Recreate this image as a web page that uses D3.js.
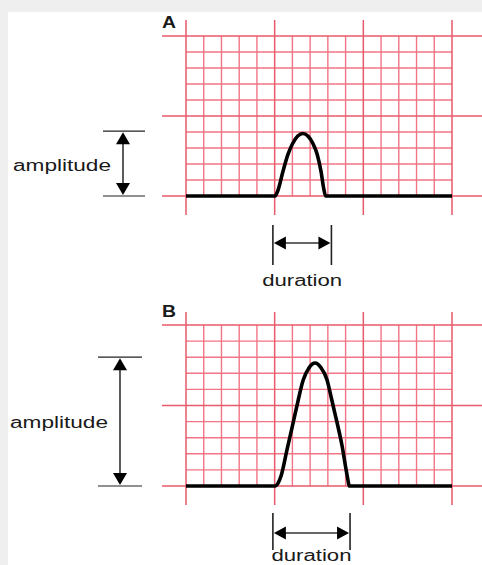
<!DOCTYPE html>
<html>
<head>
<meta charset="utf-8">
<script src="https://cdn.jsdelivr.net/npm/d3@7"></script>
<style>
html,body{margin:0;padding:0;background:#efefef;}
svg{display:block;}
text{font-family:"Liberation Sans",Arial,Helvetica,sans-serif;fill:#1a1a1a;}
</style>
</head>
<body>
<script>
// ---- data ----
const panels = ["A", "B"];
// pulse traces: time in small grid units (mm), amplitude in small grid units (mm)
const pulseA_t = [0, 4.8, 5.02, 5.2, 5.47, 5.75, 6.0, 6.3, 6.6, 6.9, 7.15, 7.4, 7.62, 7.76, 7.88, 8.2, 15];
const pulseA_v = [0, 0, 0, 0.4, 1.55, 2.6, 3.25, 3.75, 3.91, 3.72, 3.3, 2.6, 1.5, 0.5, 0, 0, 0];
const pulseB_t = [0, 4.8, 5.02, 5.2, 5.36, 5.70, 6.03, 6.30, 6.60, 6.94, 7.28, 7.61, 7.95, 8.20, 8.40, 8.80, 9.08, 9.22, 9.5, 15];
const pulseB_v = [0, 0, 0, 0.2, 0.62, 2.27, 3.87, 5.2, 6.55, 7.35, 7.64, 7.35, 6.6, 5.45, 4.5, 2.5, 0.7, 0, 0, 0];
const amplitudes = [4.05, 8.0];          // measured amplitude (mm)
const durationStart = [4.9, 4.9];        // duration bracket start (mm)
const durationEnd = [8.2, 9.25];         // duration bracket end (mm)
const xMinorTicks = d3.range(0, 16);     // 15 small squares across
const yMinorTicks = d3.range(0, 11);     // 10 small squares high
const majorEvery = 5;
const labelAmplitude = "amplitude";
const labelDuration = "duration";

// ---- layout ----
const W = 482, H = 565;
const svg = d3.select("body").append("svg").attr("width", W).attr("height", H);
svg.append("rect").attr("x", 8).attr("y", 12).attr("width", W - 8).attr("height", H - 12).attr("fill", "#fff");

const layouts = [
  {top: 36, bottom: 196, ampX: 123, ampL: 103, ampR: 145, ampTextX: 13, ampTextY: 171,
   durTop: 225, durBot: 265, durY: 243, durTextY: 286, titleY: 28, vExtTop: 20, vExtBot: 215},
  {top: 325, bottom: 486, ampX: 120, ampL: 98, ampR: 142, ampTextX: 10, ampTextY: 428,
   durTop: 513, durBot: 550, durY: 533, durTextY: 561, titleY: 317, vExtTop: 312, vExtBot: 505}
];
const traces = [
  pulseA_t.map((t, i) => ({t, v: pulseA_v[i]})),
  pulseB_t.map((t, i) => ({t, v: pulseB_v[i]}))
];

const x = d3.scaleLinear().domain([0, 15]).range([186, 452]);
const minorColor = "#f27585", majorColor = "#e85a6a";

panels.forEach((name, p) => {
  const L = layouts[p];
  const y = d3.scaleLinear().domain([0, 10]).range([L.bottom, L.top]);
  const g = svg.append("g");

  // minor grid
  g.selectAll(".vmin").data(xMinorTicks.filter(d => d % majorEvery)).join("line")
    .attr("x1", d => x(d)).attr("x2", d => x(d)).attr("y1", y(10)).attr("y2", y(0))
    .attr("stroke", minorColor).attr("stroke-width", 1.4);
  g.selectAll(".hmin").data(yMinorTicks.filter(d => d % majorEvery)).join("line")
    .attr("x1", x(0)).attr("x2", x(15)).attr("y1", d => y(d)).attr("y2", d => y(d))
    .attr("stroke", minorColor).attr("stroke-width", 1.4);
  // major grid (extends beyond box)
  g.selectAll(".vmaj").data(xMinorTicks.filter(d => d % majorEvery === 0)).join("line")
    .attr("x1", d => x(d)).attr("x2", d => x(d)).attr("y1", L.vExtTop).attr("y2", L.vExtBot)
    .attr("stroke", majorColor).attr("stroke-width", 1.5);
  g.selectAll(".hmaj").data(yMinorTicks.filter(d => d % majorEvery === 0)).join("line")
    .attr("x1", 162).attr("x2", W).attr("y1", d => y(d)).attr("y2", d => y(d))
    .attr("stroke", majorColor).attr("stroke-width", 1.5);

  // trace
  const line = d3.line().x(d => x(d.t)).y(d => y(d.v)).curve(d3.curveMonotoneX);
  g.append("path").datum(traces[p]).attr("d", line)
    .attr("fill", "none").attr("stroke", "#000").attr("stroke-width", 3.6)
    .attr("stroke-linejoin", "round");

  // title
  g.append("text").attr("x", 162).attr("y", L.titleY).attr("font-size", 16).attr("font-weight", "bold")
    .attr("textLength", 14).attr("lengthAdjust", "spacingAndGlyphs").text(name);

  // amplitude bracket
  const yTop = y(amplitudes[p]), yBot = y(0);
  [yTop, yBot].forEach(yy => g.append("line").attr("x1", L.ampL).attr("x2", L.ampR)
    .attr("y1", yy).attr("y2", yy).attr("stroke", "#222").attr("stroke-width", 1.2));
  g.append("line").attr("x1", L.ampX).attr("x2", L.ampX).attr("y1", yTop + 6).attr("y2", yBot - 6)
    .attr("stroke", "#333").attr("stroke-width", 1.6);
  const ah = 13, aw = 7;
  g.append("path").attr("d", `M${L.ampX},${yTop + 1}L${L.ampX - aw},${yTop + ah}L${L.ampX + aw},${yTop + ah}Z`).attr("fill", "#000");
  g.append("path").attr("d", `M${L.ampX},${yBot - 1}L${L.ampX - aw},${yBot - ah}L${L.ampX + aw},${yBot - ah}Z`).attr("fill", "#000");
  g.append("text").attr("x", L.ampTextX).attr("y", L.ampTextY).attr("font-size", 16)
    .attr("textLength", 98).attr("lengthAdjust", "spacingAndGlyphs").text(labelAmplitude);

  // duration bracket
  const x0 = x(durationStart[p]), x1 = x(durationEnd[p]);
  [x0, x1].forEach(xx => g.append("line").attr("x1", xx).attr("x2", xx)
    .attr("y1", L.durTop).attr("y2", L.durBot).attr("stroke", "#222").attr("stroke-width", 1.6));
  g.append("line").attr("x1", x0 + 6).attr("x2", x1 - 6).attr("y1", L.durY).attr("y2", L.durY)
    .attr("stroke", "#333").attr("stroke-width", 1.6);
  const dh = 13, dw = 6.5;
  g.append("path").attr("d", `M${x0 + 1},${L.durY}L${x0 + dh},${L.durY - dw}L${x0 + dh},${L.durY + dw}Z`).attr("fill", "#000");
  g.append("path").attr("d", `M${x1 - 1},${L.durY}L${x1 - dh},${L.durY - dw}L${x1 - dh},${L.durY + dw}Z`).attr("fill", "#000");
  g.append("text").attr("x", (x0 + x1) / 2).attr("y", L.durTextY).attr("font-size", 16)
    .attr("text-anchor", "middle")
    .attr("textLength", 80).attr("lengthAdjust", "spacingAndGlyphs").text(labelDuration);
});
</script>
</body>
</html>
